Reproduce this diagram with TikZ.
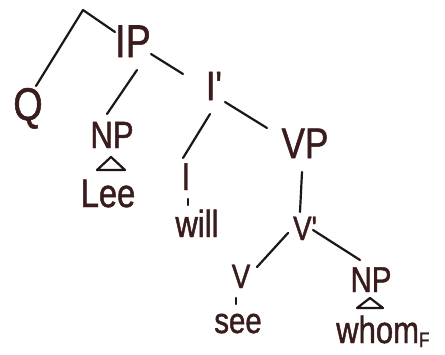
\documentclass[tikz,border=0pt]{standalone}
\usepackage{fontspec}
\newfontfamily\hand[FakeStretch=0.82,FakeBold=1.2]{Liberation Sans}
\definecolor{ink}{RGB}{58,28,28}
\definecolor{pen}{RGB}{30,22,22}
\tikzset{
  tx/.style={font=\hand\fontsize{#1}{#1}\selectfont, text=ink, inner sep=0pt, anchor=base},
  edge/.style={draw=pen, line width=2.2bp, line cap=round},
}
\begin{document}
\begin{tikzpicture}[x=1bp,y=-1bp]
\useasboundingbox[fill=white] (0,0) rectangle (445,354);
\coordinate (top) at (83,10);
\node[tx=46] (Q) at (28,120) {Q};
\node[tx=46] (IP) at (133,57) {IP};
\node[tx=41] (Ibar) at (214,100) {I'};
\node[tx=38] (NPa) at (112,148) {NP};
\node[tx=40] (Lee) at (108,207) {Lee};
\node[tx=39] (I) at (186,190) {I};
\node[tx=38] (will) at (197,237) {will};
\node[tx=43] (VP) at (305,158) {VP};
\node[tx=34] (Vbar) at (305,240) {V'};
\node[tx=34] (V) at (241,288) {V};
\node[tx=36] (see) at (238,333) {see};
\node[tx=36] (NPb) at (371,292) {NP};
\node[tx=38, anchor=base west] (whom) at (336,343) {whom\raisebox{-4bp}{\fontsize{21}{21}\selectfont F}};
% connectors
\draw[edge] (top) -- ([shift={(8,-34)}]Q.base);
\draw[edge] (top) -- ([shift={(-18,-25)}]IP.base);
\draw[edge] ([shift={(18,-3)}]IP.base) -- ([shift={(-31,-26)}]Ibar.base);
\draw[edge] ([shift={(4,13)}]IP.base) -- ([shift={(-5,-34)}]NPa.base);
\draw[edge] ([shift={(-4,14)}]Ibar.base) -- ([shift={(-3,-32)}]I.base);
\draw[edge] ([shift={(11,2)}]Ibar.base) -- ([shift={(-38,-30)}]VP.base);
\draw[edge] ([shift={(2,9)}]I.base) -- ([shift={(-9,-32)}]will.base);
\draw[edge] ([shift={(-3,14)}]VP.base) -- ([shift={(-5,-28)}]Vbar.base);
\draw[edge] ([shift={(-17,-7)}]Vbar.base) -- ([shift={(16,-21)}]V.base);
\draw[edge] ([shift={(8,-10)}]Vbar.base) -- ([shift={(-11,-32)}]NPb.base);
\draw[edge] ([shift={(-5,10)}]V.base) -- ([shift={(-2,-29)}]see.base);
% triangles
\draw[edge, line join=round] ([shift={(-1,9)}]NPa.base) -- ([shift={(-15,22)}]NPa.base) -- ([shift={(13,22)}]NPa.base) -- cycle;
\draw[edge, line join=round] ([shift={(-1,6)}]NPb.base) -- ([shift={(-14,16)}]NPb.base) -- ([shift={(12,16)}]NPb.base) -- cycle;
\end{tikzpicture}
\end{document}
